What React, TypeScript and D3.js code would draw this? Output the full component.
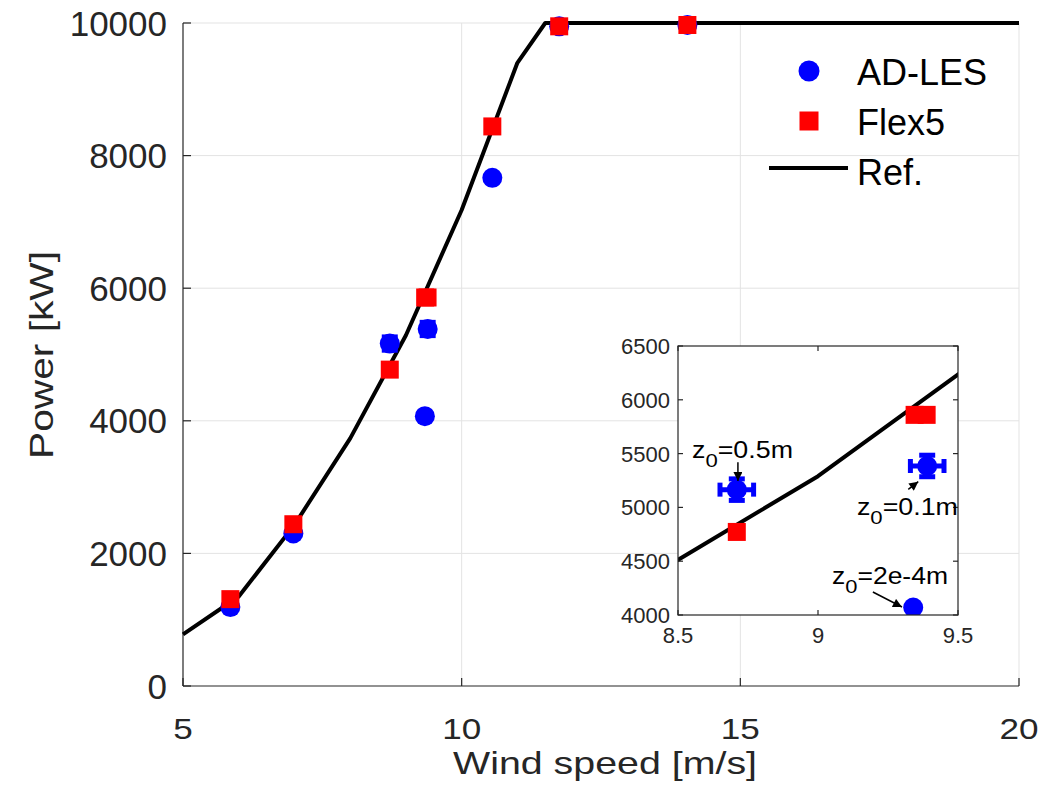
import React, { useEffect, useRef } from "react";
import * as d3 from "d3";

// reference power curve
const refSpeed = [5, 6, 7, 8, 9, 10, 11, 11.5, 20];
const refPower = [780, 1350, 2430, 3735, 5290, 7180, 9400, 10000, 10000];

// AD-LES
const lesSpeed = [5.85, 6.98, 8.71, 9.39, 9.34, 10.55, 11.75, 14.05];
const lesPower = [1190, 2300, 5165, 5385, 4070, 7665, 9950, 9970];
const lesErrSpeed = [0, 0, 0.06, 0.06, 0, 0, 0, 0];
const lesErrPower = [0, 0, 100, 100, 0, 0, 0, 0];

// Flex5
const flexSpeed = [5.85, 6.98, 8.71, 9.345, 9.388, 10.55, 11.75, 14.05];
const flexPower = [1310, 2440, 4772, 5860, 5860, 8440, 9950, 9970];

const xTicks = [5, 10, 15, 20];
const yTicks = [0, 2000, 4000, 6000, 8000, 10000];
const insetXTicks = [8.5, 9, 9.5];
const insetYTicks = [4000, 4500, 5000, 5500, 6000, 6500];

// roughness labels in the zoom box
const noteText = ["=0.5m", "=0.1m", "=2e-4m"];
const noteX = [8.55, 9.139, 9.05];
const noteY = [5460, 4929, 4288];
const noteLen = [101, 101, 116];
const arrowFrom = [[8.714, 5420], [9.3225, 5168], [9.196, 4214]];
const arrowTo = [[8.714, 5245], [9.358, 5239], [9.3, 4074]];

const FONT = "'Liberation Sans', Arial, Helvetica, sans-serif";
const AX = "#262626";
const GRID = "#e3e3e3";

export default function App() {
  const ref = useRef<SVGSVGElement>(null);

  useEffect(() => {
    const svg = d3.select(ref.current);
    svg.selectAll("*").remove();

    const x = d3.scaleLinear().domain([5, 20]).range([183, 1019]);
    const y = d3.scaleLinear().domain([0, 10000]).range([686, 23]);

    const defs = svg.append("defs");
    defs.append("marker")
      .attr("id", "head")
      .attr("viewBox", "0 0 10 10")
      .attr("refX", 10).attr("refY", 5)
      .attr("markerWidth", 10).attr("markerHeight", 9)
      .attr("markerUnits", "userSpaceOnUse")
      .attr("orient", "auto")
      .append("path").attr("d", "M0,0L10,5L0,10z").attr("fill", "#000");

    // grid
    const grid = svg.append("g");
    grid.selectAll("line.gx").data(xTicks.slice(1)).enter().append("line")
      .attr("x1", d => x(d)).attr("x2", d => x(d))
      .attr("y1", y(0)).attr("y2", y(10000))
      .attr("stroke", GRID).attr("stroke-width", 1);
    grid.selectAll("line.gy").data(yTicks.slice(1)).enter().append("line")
      .attr("x1", x(5)).attr("x2", x(20))
      .attr("y1", d => y(d)).attr("y2", d => y(d))
      .attr("stroke", GRID).attr("stroke-width", 1);

    // axes lines + inward ticks
    const ax = svg.append("g").attr("stroke", AX).attr("stroke-width", 1.2);
    ax.append("line").attr("x1", x(5)).attr("x2", x(5)).attr("y1", y(0)).attr("y2", y(10000));
    ax.append("line").attr("x1", x(5)).attr("x2", x(20)).attr("y1", y(0)).attr("y2", y(0));
    ax.selectAll("line.tx").data(xTicks).enter().append("line")
      .attr("x1", d => x(d)).attr("x2", d => x(d)).attr("y1", y(0)).attr("y2", y(0) - 8);
    ax.selectAll("line.ty").data(yTicks).enter().append("line")
      .attr("x1", x(5)).attr("x2", x(5) + 8).attr("y1", d => y(d)).attr("y2", d => y(d));

    // tick labels
    svg.append("g").selectAll("text").data(xTicks).enter().append("text")
      .attr("x", d => x(d)).attr("y", 739)
      .attr("text-anchor", "middle")
      .attr("font-size", 30)
      .attr("textLength", d => String(d).length * 19.5)
      .attr("lengthAdjust", "spacingAndGlyphs")
      .attr("fill", AX).attr("font-family", FONT)
      .text(d => d);
    svg.append("g").selectAll("text").data(yTicks).enter().append("text")
      .attr("x", 167).attr("y", d => y(d) + 12.5)
      .attr("text-anchor", "end")
      .attr("font-size", 35)
      .attr("fill", AX).attr("font-family", FONT)
      .text(d => d);

    svg.append("text")
      .attr("x", 605).attr("y", 774)
      .attr("text-anchor", "middle")
      .attr("font-size", 32)
      .attr("textLength", 304).attr("lengthAdjust", "spacingAndGlyphs")
      .attr("fill", AX).attr("font-family", FONT)
      .text("Wind speed [m/s]");
    svg.append("text")
      .attr("transform", "translate(53,355) rotate(-90)")
      .attr("text-anchor", "middle")
      .attr("font-size", 33)
      .attr("textLength", 208).attr("lengthAdjust", "spacingAndGlyphs")
      .attr("fill", AX).attr("font-family", FONT)
      .text("Power [kW]");

    let xs: any = x, ys: any = y;
    const line = d3.line<number>().x((d, i) => xs(refSpeed[i])).y(d => ys(d));

    function drawData(g: any, sx: any, sy: any) {
      xs = sx; ys = sy;
      g.append("path")
        .attr("d", line(refPower))
        .attr("fill", "none").attr("stroke", "#000").attr("stroke-width", 4)
        .attr("stroke-linejoin", "round");
      const les = g.append("g").attr("stroke", "#0000ff").attr("stroke-width", 5);
      lesSpeed.forEach((s, i) => {
        const cx = sx(s), cy = sy(lesPower[i]);
        if (lesErrSpeed[i] > 0) {
          const x0 = sx(s - lesErrSpeed[i]), x1 = sx(s + lesErrSpeed[i]);
          les.append("line").attr("x1", x0).attr("x2", x1).attr("y1", cy).attr("y2", cy);
          les.append("line").attr("x1", x0).attr("x2", x0).attr("y1", cy - 7).attr("y2", cy + 7);
          les.append("line").attr("x1", x1).attr("x2", x1).attr("y1", cy - 7).attr("y2", cy + 7);
        }
        if (lesErrPower[i] > 0) {
          const y0 = sy(lesPower[i] - lesErrPower[i]), y1 = sy(lesPower[i] + lesErrPower[i]);
          les.append("line").attr("x1", cx).attr("x2", cx).attr("y1", y0).attr("y2", y1);
          les.append("line").attr("x1", cx - 8).attr("x2", cx + 8).attr("y1", y0).attr("y2", y0);
          les.append("line").attr("x1", cx - 8).attr("x2", cx + 8).attr("y1", y1).attr("y2", y1);
        }
        les.append("circle").attr("cx", cx).attr("cy", cy).attr("r", 10)
          .attr("fill", "#0000ff").attr("stroke", "none");
      });
      g.append("g").selectAll("rect").data(flexSpeed).enter().append("rect")
        .attr("x", (d: number) => sx(d) - 9)
        .attr("y", (d: number, i: number) => sy(flexPower[i]) - 9)
        .attr("width", 18).attr("height", 18)
        .attr("fill", "#ff0000");
    }

    drawData(svg.append("g"), x, y);

    // legend (transparent, no border)
    const lg = svg.append("g").attr("font-family", FONT).attr("font-size", 36).attr("fill", "#000");
    lg.append("circle").attr("cx", 809).attr("cy", 71).attr("r", 10.5).attr("fill", "#0000ff");
    lg.append("rect").attr("x", 799.5).attr("y", 111.5).attr("width", 19).attr("height", 19).attr("fill", "#ff0000");
    lg.append("line").attr("x1", 769).attr("x2", 848).attr("y1", 168).attr("y2", 168)
      .attr("stroke", "#000").attr("stroke-width", 4);
    lg.append("text").attr("x", 857).attr("y", 85).text("AD-LES");
    lg.append("text").attr("x", 857).attr("y", 135).text("Flex5");
    lg.append("text").attr("x", 857).attr("y", 185).text("Ref.");

    // inset
    const ix = d3.scaleLinear().domain([8.5, 9.5]).range([678, 958]);
    const iy = d3.scaleLinear().domain([4000, 6500]).range([615, 346]);
    defs.append("clipPath").attr("id", "iclip").append("rect")
      .attr("x", 678).attr("y", 346).attr("width", 280).attr("height", 269);
    svg.append("rect").attr("x", 678).attr("y", 346).attr("width", 280).attr("height", 269)
      .attr("fill", "#fff");
    drawData(svg.append("g").attr("clip-path", "url(#iclip)"), ix, iy);

    const it = svg.append("g").attr("stroke", AX).attr("stroke-width", 1.2);
    it.append("rect").attr("x", 678).attr("y", 346).attr("width", 280).attr("height", 269)
      .attr("fill", "none");
    insetXTicks.forEach(t => {
      it.append("line").attr("x1", ix(t)).attr("x2", ix(t)).attr("y1", 615).attr("y2", 610);
      it.append("line").attr("x1", ix(t)).attr("x2", ix(t)).attr("y1", 346).attr("y2", 351);
    });
    insetYTicks.forEach(t => {
      it.append("line").attr("x1", 678).attr("x2", 683).attr("y1", iy(t)).attr("y2", iy(t));
      it.append("line").attr("x1", 958).attr("x2", 953).attr("y1", iy(t)).attr("y2", iy(t));
    });
    svg.append("g").selectAll("text").data(insetXTicks).enter().append("text")
      .attr("x", d => ix(d)).attr("y", 643)
      .attr("text-anchor", "middle").attr("font-size", 22)
      .attr("fill", AX).attr("font-family", FONT)
      .text(d => d);
    svg.append("g").selectAll("text").data(insetYTicks).enter().append("text")
      .attr("x", 670).attr("y", d => iy(d) + 8)
      .attr("text-anchor", "end").attr("font-size", 22)
      .attr("fill", AX).attr("font-family", FONT)
      .text(d => d);

    // annotations
    noteText.forEach((t, i) => {
      const tx = svg.append("text")
        .attr("x", ix(noteX[i])).attr("y", iy(noteY[i]))
        .attr("font-size", 23).attr("font-family", FONT).attr("fill", "#000")
        .attr("textLength", noteLen[i]).attr("lengthAdjust", "spacingAndGlyphs");
      tx.append("tspan").text("z");
      tx.append("tspan").attr("dy", 9).attr("font-size", 19).text("0");
      tx.append("tspan").attr("dy", -9).text(t);
      svg.append("line")
        .attr("x1", ix(arrowFrom[i][0])).attr("y1", iy(arrowFrom[i][1]))
        .attr("x2", ix(arrowTo[i][0])).attr("y2", iy(arrowTo[i][1]))
        .attr("stroke", "#000").attr("stroke-width", 1.5)
        .attr("marker-end", "url(#head)");
    });
  }, []);

  return (
    <svg ref={ref} width={1043} height={803}
      style={{ position: "absolute", left: 0, top: 0, background: "#fff" }} />
  );
}
